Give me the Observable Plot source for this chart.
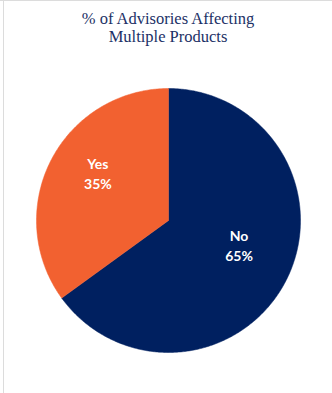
<!DOCTYPE html>
<html>
<head>
<meta charset="utf-8">
<script src="https://cdn.jsdelivr.net/npm/d3@7"></script>
<script src="https://cdn.jsdelivr.net/npm/@observablehq/plot@0.6"></script>
<style>
  html, body { margin: 0; padding: 0; background: #fff; }
  #wrap { position: relative; width: 332px; height: 393px; overflow: hidden; }
  #topline { position: absolute; left: 0; top: 0; width: 332px; height: 1px; background: #dcdcdc; }
  #leftline { position: absolute; left: 3px; top: 0; width: 1px; height: 393px; background: #dcdcdc; }
  #title { height: 40px; padding-top: 10px; text-align: center; font-family: "Liberation Serif", serif;
           font-size: 16.5px; line-height: 18px; color: #1c3166; padding-left: 4px; }
  #chart svg { display: block; }
</style>
</head>
<body>
<div id="wrap">
  <div id="topline"></div>
  <div id="leftline"></div>
  <div id="title">% of Advisories Affecting<br>Multiple Products</div>
  <div id="chart"></div>
</div>
<script>
const categories = ["No", "Yes"];
const shares = [65, 35];
const pctLabels = ["65%", "35%"];
const colors = ["#002060", "#f26130"];

const total = d3.sum(shares);
let acc = 0;
const slices = categories.map((c, i) => {
  const a0 = acc / total * 2 * Math.PI;
  acc += shares[i];
  const a1 = acc / total * 2 * Math.PI;
  return {category: c, a0, a1, pct: pctLabels[i]};
});

// Outline of each slice (geometry for the fill), in unit-circle coordinates
const outline = [];
for (const s of slices) {
  outline.push({category: s.category, x: 0, y: 0});
  const steps = Math.max(2, Math.ceil((s.a1 - s.a0) / 0.01));
  for (let k = 0; k <= steps; k++) {
    const a = s.a0 + (s.a1 - s.a0) * k / steps;
    outline.push({category: s.category, x: Math.sin(a), y: Math.cos(a)});
  }
  outline.push({category: s.category, x: 0, y: 0});
}

const labelR = 0.6;
const labelData = slices.map(s => {
  const m = (s.a0 + s.a1) / 2;
  return {category: s.category, pct: s.pct, x: labelR * Math.sin(m), y: labelR * Math.cos(m)};
});

const plot = Plot.plot({
  width: 332,
  height: 343,
  marginLeft: 36,
  marginRight: 32,
  marginTop: 38,
  marginBottom: 41,
  x: {domain: [-1, 1], axis: null},
  y: {domain: [-1, 1], axis: null},
  color: {domain: categories, range: colors},
  style: {background: "transparent", overflow: "visible"},
  marks: [
    Plot.line(outline, {x: "x", y: "y", z: "category", fill: "category", stroke: "category", strokeWidth: 0.5}),
    Plot.text(labelData, {
      x: "x", y: "y",
      text: d => d.category + "\n" + d.pct,
      fill: "white",
      fontSize: 14,
      fontWeight: "bold",
      fontFamily: "Lato, sans-serif",
      lineHeight: 1.45,
      dy: -12
    })
  ]
});
document.getElementById("chart").appendChild(plot);
</script>
</body>
</html>
